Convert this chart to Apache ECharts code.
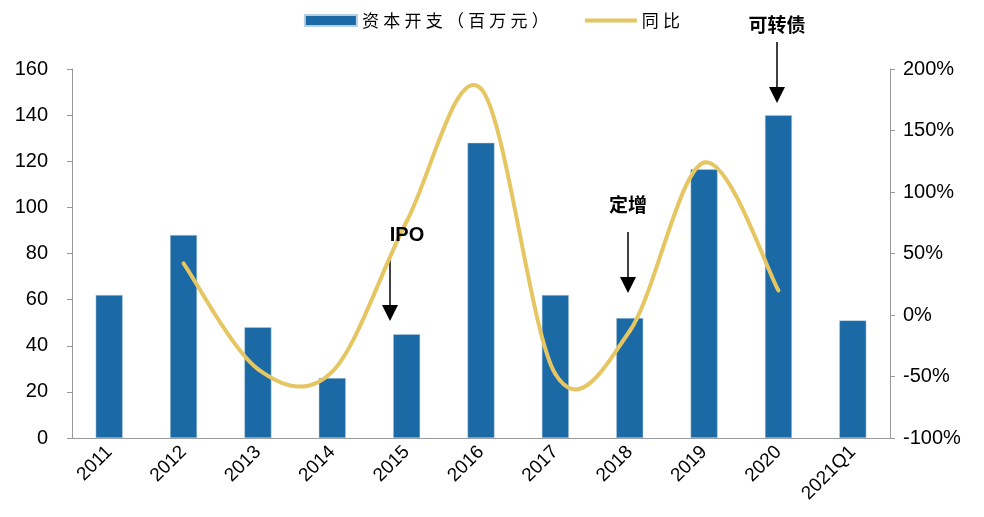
<!DOCTYPE html>
<html>
<head>
<meta charset="utf-8">
<script src="https://cdn.jsdelivr.net/npm/echarts@6/dist/echarts.min.js"></script>
<style>
  html, body { margin: 0; padding: 0; background: #fff; }
  #main { width: 984px; height: 517px; }
</style>
</head>
<body>
<div id="main"></div>
<script>
// 数据
var years = ['2011', '2012', '2013', '2014', '2015', '2016', '2017', '2018', '2019', '2020', '2021Q1'];
var capex = [62, 88, 48, 26, 45, 128, 62, 52, 116.5, 140, 51];
// 同比 (2012 - 2020)
var yoyYears = ['2012', '2013', '2014', '2015', '2016', '2017', '2018', '2019', '2020'];
var yoy = [42, -44, -46, 76, 184, -48, -13, 124, 20];
var leftTicks = [0, 160, 20];
var rightTicks = [-100, 200, 50];

var font = 'Arial, "Liberation Sans", sans-serif';
var cjk = '"Noto Sans CJK SC", sans-serif';
var lineColor = '#e6c662';

function arrow(x, y1, y2) {
    // 竖直向下的箭头
    return [{
        type: 'line',
        shape: { x1: x, y1: y1, x2: x, y2: y2 - 14 },
        style: { stroke: '#000', lineWidth: 1.5 }
    }, {
        type: 'polygon',
        shape: { points: [[x - 8, y2 - 16], [x + 8, y2 - 16], [x, y2]] },
        style: { fill: '#000' }
    }];
}

// 类似 Excel 的平滑曲线 (Catmull-Rom)
function renderSmooth(params, api) {
    var i = params.dataIndex;
    var n = yoy.length;
    if (i >= n - 1) return null;
    var pt = function (k) {
        k = Math.max(0, Math.min(n - 1, k));
        return api.coord([yoyYears[k], yoy[k]]);
    };
    var p0 = pt(i - 1), p1 = pt(i), p2 = pt(i + 1), p3 = pt(i + 2);
    return {
        type: 'bezierCurve',
        shape: {
            x1: p1[0], y1: p1[1],
            x2: p2[0], y2: p2[1],
            cpx1: p1[0] + (p2[0] - p0[0]) / 6,
            cpy1: p1[1] + (p2[1] - p0[1]) / 6,
            cpx2: p2[0] - (p3[0] - p1[0]) / 6,
            cpy2: p2[1] - (p3[1] - p1[1]) / 6
        },
        style: { fill: null, stroke: lineColor, lineWidth: 4, lineCap: 'round' }
    };
}

var myChart = echarts.init(document.getElementById('main'));
myChart.setOption({
    animation: false,
    textStyle: { fontFamily: font },
    legend: {
        top: 7,
        left: 'center',
        itemWidth: 52,
        itemHeight: 11,
        itemGap: 36,
        textStyle: { fontSize: 17, color: '#000', fontFamily: cjk },
        formatter: function (name) {
            return name.split('').join('\u2005');
        },
        data: [
            { name: '资本开支（百万元）', icon: 'rect' },
            { name: '同比', icon: 'path://M0,0L52,0L52,4L0,4Z' }
        ]
    },
    grid: { left: 72, right: 94, top: 69, bottom: 79 },
    xAxis: {
        type: 'category',
        data: years,
        axisLine: { lineStyle: { color: '#999' } },
        axisTick: { show: false },
        axisLabel: { rotate: 45, margin: 11, fontSize: 19, color: '#000' }
    },
    yAxis: [{
        type: 'value',
        min: leftTicks[0],
        max: leftTicks[1],
        interval: leftTicks[2],
        splitLine: { show: false },
        axisLine: { show: true, lineStyle: { color: '#999' } },
        axisTick: { show: true, length: 5, lineStyle: { color: '#999' } },
        axisLabel: { margin: 24, fontSize: 20, color: '#000' }
    }, {
        type: 'value',
        min: rightTicks[0],
        max: rightTicks[1],
        interval: rightTicks[2],
        splitLine: { show: false },
        axisLine: { show: true, lineStyle: { color: '#999' } },
        axisTick: { show: true, length: 5, lineStyle: { color: '#999' } },
        axisLabel: { margin: 13, fontSize: 20, color: '#000', formatter: '{value}%' }
    }],
    series: [{
        name: '资本开支（百万元）',
        type: 'bar',
        z: 2,
        barWidth: 27,
        itemStyle: { color: '#1b6aa5', borderColor: '#b9cfe2', borderWidth: 0.5 },
        data: capex
    }, {
        name: '同比',
        type: 'custom',
        z: 5,
        yAxisIndex: 1,
        itemStyle: { color: lineColor },
        renderItem: renderSmooth,
        encode: { x: 0, y: 1 },
        data: yoyYears.map(function (y, k) { return [y, yoy[k]]; })
    }],
    graphic: [].concat(
        [{
            type: 'text', x: 407, y: 235, z: 10,
            style: { text: 'IPO', font: 'bold 20px Arial, "Liberation Sans"', fill: '#000', align: 'center', verticalAlign: 'middle' }
        }, {
            type: 'text', x: 628, y: 205, z: 10,
            style: { text: '定增', font: 'bold 19px "Noto Sans CJK SC"', fill: '#000', align: 'center', verticalAlign: 'middle' }
        }, {
            type: 'text', x: 777, y: 25, z: 10,
            style: { text: '可转债', font: 'bold 19px "Noto Sans CJK SC"', fill: '#000', align: 'center', verticalAlign: 'middle' }
        }],
        arrow(390, 258, 321),
        arrow(628, 232, 293),
        arrow(777, 42, 103)
    )
});
</script>
</body>
</html>
